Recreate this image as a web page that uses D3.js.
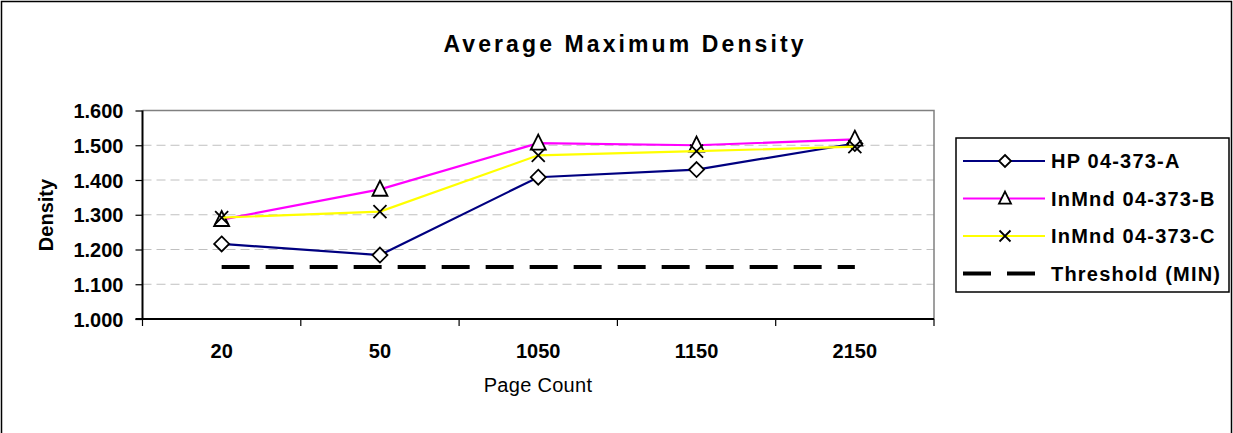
<!DOCTYPE html>
<html><head><meta charset="utf-8">
<script src="https://cdn.jsdelivr.net/npm/d3@7"></script>
<style>
html,body{margin:0;padding:0;background:#fff;}
svg{display:block;}
text{font-family:"Liberation Sans",Arial,sans-serif;}
</style></head>
<body>
<svg id="chart" width="1233" height="433"></svg>
<script>
const categories = ["20", "50", "1050", "1150", "2150"];
const seriesNames = ["HP 04-373-A", "InMnd 04-373-B", "InMnd 04-373-C", "Threshold (MIN)"];
const hpValues = [1.216, 1.184, 1.408, 1.430, 1.505];
const inmndBValues = [1.286, 1.373, 1.506, 1.500, 1.517];
const inmndCValues = [1.292, 1.309, 1.471, 1.483, 1.496];
const thresholdValues = [1.150, 1.150, 1.150, 1.150, 1.150];
const yTicks = [1.0, 1.1, 1.2, 1.3, 1.4, 1.5, 1.6];

const svg = d3.select("#chart");
const plot = {left: 142.5, right: 934, top: 110.5, bottom: 319};

// outer border
svg.append("rect").attr("x", 1.5).attr("y", 1.5).attr("width", 1230).attr("height", 440)
  .attr("fill", "#fff").attr("stroke", "#000").attr("stroke-width", 1.5);

const x = d3.scaleBand().domain(categories).range([plot.left, plot.right]);
const y = d3.scaleLinear().domain([1.0, 1.6]).range([plot.bottom, plot.top]);
const cx = c => x(c) + x.bandwidth() / 2;

// grid lines
svg.append("g").selectAll("line").data(yTicks.filter(v => v > 1.0 && v < 1.6)).join("line")
  .attr("x1", plot.left).attr("x2", plot.right)
  .attr("y1", d => y(d)).attr("y2", d => y(d))
  .attr("stroke", "#c0c0c0").attr("stroke-width", 1).attr("stroke-dasharray", "9,5");

// plot border top/right
svg.append("path")
  .attr("d", `M${plot.left},${y(1.6)}H${plot.right}V${plot.bottom}`)
  .attr("fill", "none").attr("stroke", "#808080").attr("stroke-width", 1.5);

// Y axis
const yAxis = d3.axisLeft(y).tickValues(yTicks).tickFormat(d3.format(".3f")).tickSize(7).tickPadding(12);
const gy = svg.append("g").attr("transform", `translate(${plot.left},0)`).call(yAxis);
gy.select(".domain").attr("stroke", "#000").attr("stroke-width", 2).attr("d", `M0,${plot.top}V${plot.bottom}`);
gy.selectAll(".tick line").attr("stroke", "#000").attr("stroke-width", 1.2);
gy.selectAll(".tick text").attr("font-size", 20).attr("font-weight", "bold").attr("fill", "#000")
  .attr("font-family", "'Liberation Sans',Arial,sans-serif").attr("dy", "0.35em");

// X axis
const xAxis = d3.axisBottom(x).tickSize(0).tickPadding(25);
const gx = svg.append("g").attr("transform", `translate(0,${plot.bottom})`).call(xAxis);
gx.select(".domain").remove();
gx.selectAll(".tick text").attr("font-size", 20).attr("font-weight", "bold").attr("fill", "#000")
  .attr("font-family", "'Liberation Sans',Arial,sans-serif");
svg.append("line").attr("x1", plot.left - 7).attr("x2", plot.right)
  .attr("y1", plot.bottom).attr("y2", plot.bottom).attr("stroke", "#000").attr("stroke-width", 2);
const bounds = categories.map(c => x(c)).concat([x.range()[1]]);
svg.append("g").selectAll("line").data(bounds).join("line")
  .attr("x1", d => d).attr("x2", d => d).attr("y1", plot.bottom).attr("y2", plot.bottom + 7)
  .attr("stroke", "#000").attr("stroke-width", 1.2);

// titles
svg.append("text").attr("x", 625).attr("y", 52).attr("text-anchor", "middle")
  .attr("font-size", 23).attr("font-weight", "bold").attr("letter-spacing", "3.1px").text("Average Maximum Density");
svg.append("text").attr("transform", "translate(53,215) rotate(-90)").attr("text-anchor", "middle")
  .attr("font-size", 20).attr("font-weight", "bold").text("Density");
svg.append("text").attr("x", 538).attr("y", 392).attr("text-anchor", "middle")
  .attr("font-size", 20).attr("letter-spacing", "0.3px").text("Page Count");

// marker shapes
function marker(g, type, px, py, s) {
  if (type === "diamond") {
    g.append("path").attr("d", `M${px},${py - s}L${px + s},${py}L${px},${py + s}L${px - s},${py}Z`)
      .attr("fill", "#fff").attr("stroke", "#000").attr("stroke-width", 1.8);
  } else if (type === "triangle") {
    g.append("path").attr("d", `M${px},${py - s * 1.15}L${px + s},${py + s * 0.85}L${px - s},${py + s * 0.85}Z`)
      .attr("fill", "#fff").attr("stroke", "#000").attr("stroke-width", 1.8);
  } else if (type === "x") {
    g.append("path").attr("d", `M${px - s},${py - s}L${px + s},${py + s}M${px + s},${py - s}L${px - s},${py + s}`)
      .attr("fill", "none").attr("stroke", "#000").attr("stroke-width", 1.8);
  }
}

const series = [
  {name: seriesNames[0], values: hpValues, color: "#000080", marker: "diamond"},
  {name: seriesNames[1], values: inmndBValues, color: "#ff00ff", marker: "triangle"},
  {name: seriesNames[2], values: inmndCValues, color: "#ffff00", marker: "x"}
];
const line = d3.line().x((d, i) => cx(categories[i])).y(d => y(d));

series.forEach(s => {
  const g = svg.append("g");
  g.append("path").datum(s.values).attr("d", line).attr("fill", "none")
    .attr("stroke", s.color).attr("stroke-width", 2.2);
  s.values.forEach((v, i) => marker(g, s.marker, cx(categories[i]), y(v), s.marker === "x" ? 6.5 : 7.5));
});

// threshold
svg.append("path").datum(thresholdValues).attr("d", line).attr("fill", "none")
  .attr("stroke", "#000").attr("stroke-width", 4).attr("stroke-dasharray", "28,16");

// legend
const lg = svg.append("g");
lg.append("rect").attr("x", 956).attr("y", 138).attr("width", 273).attr("height", 154)
  .attr("fill", "#fff").attr("stroke", "#000").attr("stroke-width", 1.5);
const rowsY = [161, 198.5, 236, 273.5];
series.forEach((s, i) => {
  lg.append("line").attr("x1", 963).attr("x2", 1045).attr("y1", rowsY[i]).attr("y2", rowsY[i])
    .attr("stroke", s.color).attr("stroke-width", 2);
  marker(lg, s.marker, 1005, rowsY[i], s.marker === "x" ? 5.5 : 6);
});
lg.append("line").attr("x1", 963).attr("x2", 1045).attr("y1", rowsY[3]).attr("y2", rowsY[3])
  .attr("stroke", "#000").attr("stroke-width", 4).attr("stroke-dasharray", "28,16");
seriesNames.forEach((n, i) => {
  lg.append("text").attr("x", 1051).attr("y", rowsY[i] + 7).attr("font-size", 20).attr("font-weight", "bold")
    .attr("letter-spacing", "1.2px").text(n);
});
</script>
</body></html>
